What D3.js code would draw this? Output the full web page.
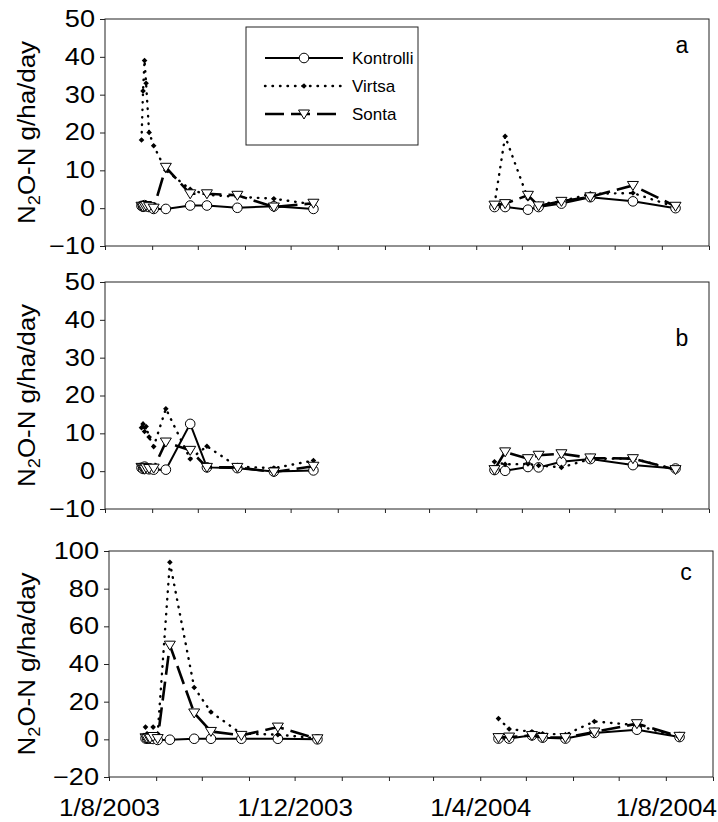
<!DOCTYPE html>
<html>
<head>
<meta charset="utf-8">
<script src="https://cdn.jsdelivr.net/npm/d3@7"></script>
<style>
  html, body { margin: 0; padding: 0; background: #fff; }
  svg { display: block; font-family: "Liberation Sans", Arial, sans-serif; }
</style>
</head>
<body>
<svg id="chart" width="718" height="822"></svg>
<script>
// sampling dates (autumn 2003 and spring/summer 2004)
var dates2003 = ["2003-08-25", "2003-08-26", "2003-08-27", "2003-08-28", "2003-08-30", "2003-09-02",
                 "2003-09-10", "2003-09-26", "2003-10-07", "2003-10-27", "2003-11-20", "2003-12-16"];
var dates2004 = ["2004-04-13", "2004-04-20", "2004-05-05", "2004-05-12", "2004-05-27", "2004-06-15",
                 "2004-07-13", "2004-08-10"];

var seriesNames = ["Kontrolli", "Virtsa", "Sonta"];
var panelLabels = ["a", "b", "c"];

// N2O-N g/ha/day, 12 values for 2003 followed by 8 values for 2004
var kontrolliA = [0.6, 0.4, 0.8, 0.5, 0.3, -0.2, -0.2, 0.7, 0.7, 0.1, 0.5, -0.2,
                  0.3, 0.3, -0.4, 0.3, 1.2, 2.9, 1.8, 0.0];
var virtsaA    = [18, 31, 39, 33, 20, 16.5, 10, 5, 3.5, 3, 2.5, 1,
                  1, 19, 2.5, 1, 1.8, 3.8, 4, 0.3];
var sontaA     = [0.5, 0.3, 0.5, 0.7, 0.4, 0, 10.8, 3.8, 3.8, 3.4, 0.3, 1.3,
                  0.8, 1.2, 3.4, 0.6, 1.8, 3.0, 6.0, 0.5];

var kontrolliB = [0.9, 0.6, 1.2, 0.8, 0.5, 0.4, 0.4, 12.5, 1.0, 0.8, -0.1, 0.2,
                  0.3, 0.1, 1.1, 1.0, 2.5, 3.2, 1.6, 0.7];
var virtsaB    = [11.5, 12.5, 10.5, 11.8, 9, 6.5, 16.5, 3.2, 6.6, 1.2, 0.8, 2.8,
                  2.5, 1.8, 1.9, 1.5, 1.0, 3.2, 3.4, 0.4];
var sontaB     = [1.0, 0.8, 0.5, 0.9, 0.7, 0.8, 7.7, 5.5, 1.0, 1.0, -0.2, 1.3,
                  0.4, 5.1, 3.3, 4.2, 4.6, 3.5, 3.3, 0.4];

var kontrolliC = [0.5, 0.3, 0.6, 0.4, 0.2, -0.3, -0.2, 0.3, 0.3, 0.3, 0.3, 0,
                  0.4, 0.4, 2.1, 0.9, 0.4, 3.4, 5.1, 1.2];
var virtsaC    = [6.5, 3, 2, 1, 6.5, 3, 94, 27.5, 14.5, 3, 2.5, 0.5,
                  11, 5.5, 4, 3, 2.5, 9.5, 7.5, 1];
var sontaC     = [0.8, 0.5, 1, 0.6, 1.5, 0.4, 50, 14, 4.2, 2.1, 6.5, 0.3,
                  0.9, 1.2, 2, 1, 0.9, 3.9, 8.3, 1.6];

var yTicksAB = [-10, 0, 10, 20, 30, 40, 50];
var yTicksC  = [-20, 0, 20, 40, 60, 80, 100];
var xLabelDates = ["2003-08-01", "2003-12-01", "2004-04-01", "2004-08-01"];

(function () {
  "use strict";

  var parse = d3.timeParse("%Y-%m-%d");
  var fmt = function (d) { return d.getDate() + "/" + (d.getMonth() + 1) + "/" + d.getFullYear(); };
  var svg = d3.select("#chart");

  // ── Panel geometry ──────────────────────────────────────────────────────
  var panels = [
    { label: panelLabels[0], data: [kontrolliA, virtsaA, sontaA], ticks: yTicksAB,
      x0: 105, x1: 709, top: 19, bottom: 246, labelY: 53, legend: true },
    { label: panelLabels[1], data: [kontrolliB, virtsaB, sontaB], ticks: yTicksAB,
      x0: 105, x1: 709, top: 282, bottom: 509, labelY: 346 },
    { label: panelLabels[2], data: [kontrolliC, virtsaC, sontaC], ticks: yTicksC,
      x0: 109, x1: 713, top: 551, bottom: 777, labelY: 580, xLabels: true }
  ];

  var xDomain = [parse("2003-08-01"), parse("2004-09-01")];
  var monthTicks = d3.timeMonth.range(xDomain[0], d3.timeDay.offset(xDomain[1], 1));

  // ── Series styles ───────────────────────────────────────────────────────
  var styles = [
    { dash: null,     width: 2,   cap: "butt",  marker: "circle" },
    { dash: "0.5,7",  width: 2.4, cap: "round", marker: "dot" },
    { dash: "19,7",   width: 2.6, cap: "butt",  marker: "triangle" }
  ];

  function drawMarker(sel, kind) {
    if (kind === "circle") {
      sel.append("circle").attr("r", 4.8)
        .attr("fill", "#fff").attr("stroke", "#000").attr("stroke-width", 1);
    } else if (kind === "dot") {
      sel.append("path").attr("d", "M0,-2.8L2.8,0L0,2.8L-2.8,0Z").attr("fill", "#000");
    } else {
      sel.append("path").attr("d", "M-5.5,-4L5.5,-4L0,5Z")
        .attr("fill", "#fff").attr("stroke", "#000").attr("stroke-width", 1);
    }
  }

  var d2003 = dates2003.map(parse);
  var d2004 = dates2004.map(parse);

  panels.forEach(function (p) {
    var x = d3.scaleTime().domain(xDomain).range([p.x0, p.x1]);
    var y = d3.scaleLinear().domain(d3.extent(p.ticks)).range([p.bottom, p.top]);
    var g = svg.append("g");

    // frame
    g.append("rect")
      .attr("x", p.x0).attr("y", p.top)
      .attr("width", p.x1 - p.x0).attr("height", p.bottom - p.top)
      .attr("fill", "none").attr("stroke", "#222").attr("stroke-width", 1);

    // y axis
    var yAxis = d3.axisLeft(y).tickValues(p.ticks).tickSize(5).tickPadding(5);
    g.append("g").attr("transform", "translate(" + p.x0 + ",0)").call(yAxis)
      .call(function (a) {
        a.select(".domain").remove();
        a.selectAll("line").attr("stroke", "#222");
        a.selectAll("text").attr("font-size", 23).attr("fill", "#000")
          .attr("font-family", "'Liberation Sans', Arial, sans-serif")
          .attr("transform", "translate(-10,0) scale(1.18,1) translate(10,0)");
      });

    // x axis (monthly ticks, labels on bottom panel only)
    var xAxis = d3.axisBottom(x).tickValues(monthTicks).tickSize(4).tickPadding(19)
      .tickFormat(function (d) {
        if (!p.xLabels) return "";
        var hit = xLabelDates.some(function (s) { return +parse(s) === +d; });
        return hit ? fmt(d) : "";
      });
    g.append("g").attr("transform", "translate(0," + p.bottom + ")").call(xAxis)
      .call(function (a) {
        a.select(".domain").remove();
        a.selectAll("line").attr("stroke", "#222");
        a.selectAll("text").attr("font-size", 23).attr("fill", "#000")
          .attr("font-family", "'Liberation Sans', Arial, sans-serif")
          .attr("transform", "scale(1.13,1)");
      });

    // y title
    var cy = (p.top + p.bottom) / 2;
    var t = g.append("text")
      .attr("transform", "translate(35," + cy + ") rotate(-90) scale(1.08,1)")
      .attr("text-anchor", "middle")
      .attr("font-size", 24).attr("fill", "#000");
    t.append("tspan").text("N");
    t.append("tspan").text("2").attr("font-size", 17).attr("dy", 5);
    t.append("tspan").text("O-N g/ha/day").attr("dy", -5);

    // panel letter
    g.append("text").attr("x", p.x1 - 27).attr("y", p.labelY)
      .attr("text-anchor", "middle").attr("font-size", 23).text(p.label);

    // series
    var line = d3.line()
      .x(function (d) { return x(d.date); })
      .y(function (d) { return y(d.value); });

    p.data.forEach(function (vals, si) {
      var st = styles[si];
      var pts = d2003.concat(d2004).map(function (dt, i) { return { date: dt, value: vals[i] }; });
      var segs = [pts.slice(0, d2003.length), pts.slice(d2003.length)];
      var sg = g.append("g").attr("class", "series-" + si);
      segs.forEach(function (seg) {
        sg.append("path").datum(seg)
          .attr("d", line)
          .attr("fill", "none").attr("stroke", "#000")
          .attr("stroke-width", st.width)
          .attr("stroke-linecap", st.cap)
          .attr("stroke-dasharray", st.dash);
      });
      sg.selectAll("g.mk").data(pts).join("g").attr("class", "mk")
        .attr("transform", function (d) { return "translate(" + x(d.date) + "," + y(d.value) + ")"; })
        .each(function () { drawMarker(d3.select(this), st.marker); });
    });

    // legend
    if (p.legend) {
      var lg = g.append("g");
      lg.append("rect").attr("x", 246).attr("y", 27).attr("width", 172).attr("height", 118)
        .attr("fill", "#fff").attr("stroke", "#222").attr("stroke-width", 1);
      seriesNames.forEach(function (name, si) {
        var st = styles[si];
        var ly = 58 + si * 28;
        lg.append("line").attr("x1", 265).attr("x2", 343).attr("y1", ly).attr("y2", ly)
          .attr("stroke", "#000").attr("stroke-width", st.width)
          .attr("stroke-linecap", st.cap)
          .attr("stroke-dasharray", st.dash);
        var m = lg.append("g").attr("transform", "translate(304," + ly + ")");
        drawMarker(m, st.marker);
        lg.append("text").attr("x", 352).attr("y", ly + 6).attr("font-size", 17).text(name);
      });
    }
  });
})();
</script>
</body>
</html>
